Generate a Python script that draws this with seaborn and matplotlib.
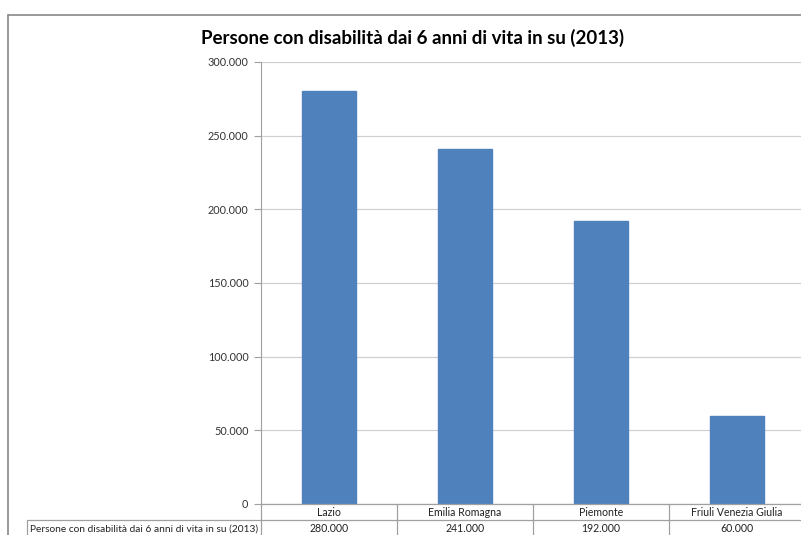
import matplotlib
matplotlib.use("Agg")
import matplotlib.pyplot as plt
import matplotlib.ticker as mticker
from matplotlib.lines import Line2D
import seaborn as sns
import pandas as pd

regioni = ["Lazio", "Emilia Romagna", "Piemonte", "Friuli Venezia Giulia"]
persone = [280000, 241000, 192000, 60000]
serie = "Persone con disabilità dai 6 anni di vita in su (2013)"
y_ticks = [0, 50000, 100000, 150000, 200000, 250000, 300000]

df = pd.DataFrame({"regione": regioni, "persone": persone})

sns.set_style("white")
plt.rcParams["font.family"] = ["Lato", "DejaVu Sans"]

W, H = 801, 535
fig = plt.figure(figsize=(W / 100, H / 100), dpi=100)
# plot area in pixels (right side is cut off in the reference)
left, right, top, bottom = 261, 805, 62, 504
ax = fig.add_axes([left / W, 1 - bottom / H, (right - left) / W, (bottom - top) / H])

sns.barplot(data=df, x="regione", y="persone", color="#4F81BD", width=0.4,
            saturation=1, ax=ax, edgecolor="#4F81BD")

ax.set_ylim(0, 300000)
ax.set_xlim(-0.5, 3.5)
ax.set_yticks(y_ticks)
ax.yaxis.set_major_formatter(mticker.FuncFormatter(lambda v, p: f"{int(v):,}".replace(",", ".")))
ax.yaxis.grid(True, color="#D0D0D0", linewidth=0.9)
ax.set_axisbelow(True)
for s in ["top", "right", "bottom"]:
    ax.spines[s].set_visible(False)
ax.spines["left"].set_color("#A0A0A0")
ax.tick_params(axis="y", which="both", left=True, length=5, color="#A0A0A0",
               labelsize=7.8, labelcolor="#333333", pad=4)
ax.set_xlabel("")
ax.set_ylabel("")
ax.set_xticks([])

line_c = "#A0A0A0"
def px_line(x0, y0, x1, y1, c=line_c, lw=0.9):
    fig.add_artist(Line2D([x0 / W, x1 / W], [1 - y0 / H, 1 - y1 / H], color=c, lw=lw))

# data table under the plot
px_line(left, bottom, W, bottom)
px_line(27, 520, W, 520)
px_line(27, 520, 27, H)
for i in range(len(regioni) + 1):
    xb = left + i * (right - left) / len(regioni)
    px_line(xb, bottom, xb, H)

trans = ax.get_xaxis_transform()
for i, (r, v) in enumerate(zip(regioni, persone)):
    ax.text(i, -(515.5 - bottom) / (bottom - top), r, transform=trans, ha="center",
            va="baseline", fontsize=7.6, color="#222222", clip_on=False)
    ax.text(i, -(531.5 - bottom) / (bottom - top), f"{v:,}".replace(",", "."),
            transform=trans, ha="center", va="baseline", fontsize=7.6,
            color="#222222", clip_on=False)
fig.text(30 / W, 1 - 531.5 / H, serie, ha="left", va="baseline", fontsize=7.25,
         color="#222222")

# chart border
px_line(8, 15, W, 15, c="#888888", lw=1.2)
px_line(8, 15, 8, H, c="#888888", lw=1.2)

fig.text(413 / W, 1 - 38 / H, serie, ha="center", va="center",
         fontsize=13.5, fontweight="bold", color="#000000")

fig.savefig("out.png", dpi=100)
